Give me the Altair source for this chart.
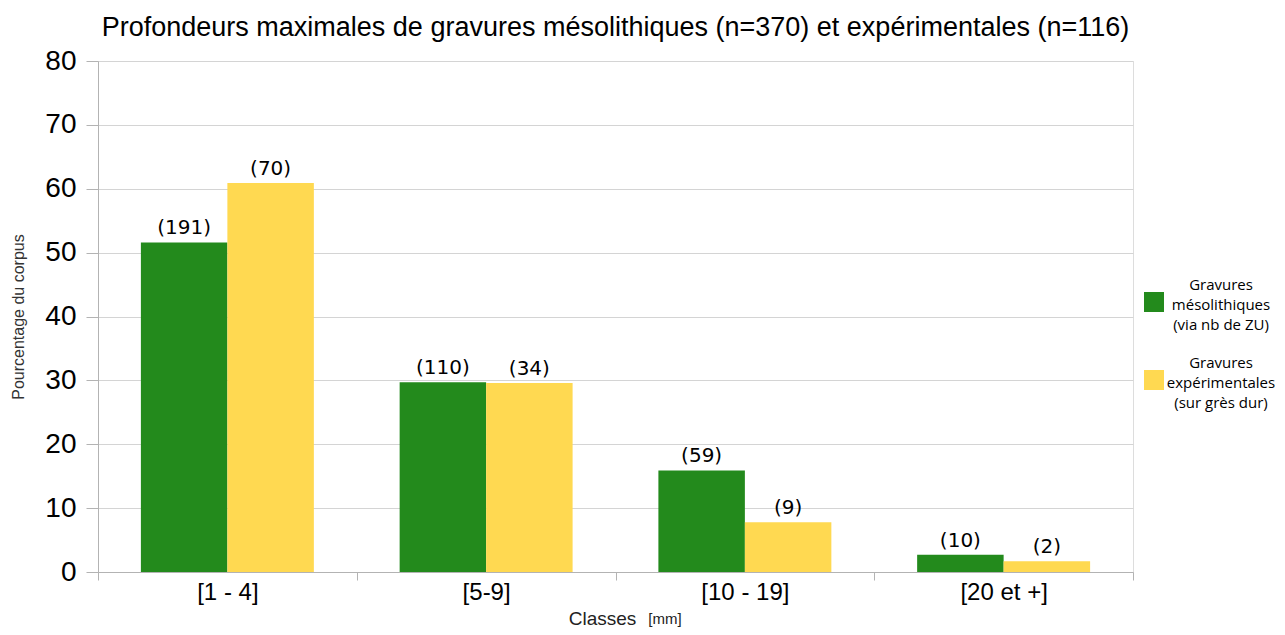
import altair as alt
import pandas as pd

categories = ["[1 - 4]", "[5-9]", "[10 - 19]", "[20 et +]"]
series = ["Gravures|mésolithiques|(via nb de ZU)", "Gravures|expérimentales|(sur grès dur)"]
meso_pct = [51.6, 29.7, 15.9, 2.7]
meso_n = [191, 110, 59, 10]
exp_pct = [60.9, 29.6, 7.8, 1.7]
exp_n = [70, 34, 9, 2]
colors = ["#238A1C", "#FFD951"]

rows = []
for i, c in enumerate(categories):
    rows.append({"cat": c, "serie": series[0], "pct": meso_pct[i], "lab": f"({meso_n[i]})"})
    rows.append({"cat": c, "serie": series[1], "pct": exp_pct[i], "lab": f"({exp_n[i]})"})
df = pd.DataFrame(rows)

W, H = 1035, 511
LDY = -17  # vertical shift of guide labels (for the 3-line legend labels)

x = alt.X("cat:N", sort=categories,
          scale=alt.Scale(paddingInner=0, paddingOuter=0),
          axis=alt.Axis(title="Classes", tickBand="extent", labelAngle=0,
                        labelFont="Liberation Sans", labelFontSize=24, labelColor="#000000",
                        labelPadding=0 - LDY,
                        tickSize=8, tickColor="#b3b3b3", domainColor="#b3b3b3",
                        titleFont="Liberation Sans", titleFontSize=19, titleFontWeight="normal",
                        titleColor="#222222", titleX=504, titleY=52, titleBaseline="alphabetic",
                        grid=False))
xo = alt.XOffset("serie:N", sort=series,
                 scale=alt.Scale(paddingOuter=0.496, paddingInner=0))
y = alt.Y("pct:Q", scale=alt.Scale(domain=[0, 80]),
          axis=alt.Axis(title="Pourcentage du corpus", values=list(range(0, 81, 10)),
                        labelFont="Liberation Sans", labelFontSize=28, labelColor="#000000",
                        labelPadding=10, labelOffset=-LDY, tickSize=12, tickColor="#b3b3b3",
                        domainColor="#b3b3b3", gridColor="#d4d4d4",
                        titleFont="Liberation Sans", titleFontSize=16, titleFontWeight="normal",
                        titleColor="#333333", titlePadding=18))

bars = alt.Chart(df).mark_bar().encode(
    x=x, xOffset=xo, y=y,
    color=alt.Color("serie:N", sort=series,
                    scale=alt.Scale(domain=series, range=colors),
                    legend=alt.Legend(title=None, orient="none", legendX=1046, legendY=231,
                                      symbolType="square", symbolSize=400, symbolStrokeWidth=0,
                                      labelExpr="split(datum.label, '|')",
                                      labelFont="Open Sans", labelFontSize=15, labelColor="#000000",
                                      labelAlign="center", labelOffset=57, labelLimit=300,
                                      labelBaseline="middle", rowPadding=23, padding=0)),
)

labels = alt.Chart(df).mark_text(baseline="alphabetic", dy=-8, font="DejaVu Sans",
                                 fontSize=20, color="#000000").encode(
    x=x, xOffset=xo, y=y, text="lab:N")

mm = alt.Chart(pd.DataFrame({"t": ["[mm]"]})).mark_text(
    font="Liberation Sans", fontSize=15, color="#222222", baseline="alphabetic").encode(
    x=alt.value(567), y=alt.value(563), text="t:N")

chart = alt.layer(bars, labels, mm).properties(
    width=W, height=H,
    title=alt.Title("Profondeurs maximales de gravures mésolithiques (n=370) et expérimentales (n=116)",
                    font="Liberation Sans", fontSize=27, fontWeight="normal", color="#000000",
                    anchor="middle", offset=5),
    autosize=alt.AutoSizeParams(type="none"),
    padding={"left": 90, "top": 53, "right": 144, "bottom": 55},
).configure_view(stroke="#b3b3b3", strokeWidth=1).configure(
    style={"guide-label": {"lineHeight": 20, "dy": LDY}}
)

chart.save("out.html", embed_options={"renderer": "svg", "actions": False})
